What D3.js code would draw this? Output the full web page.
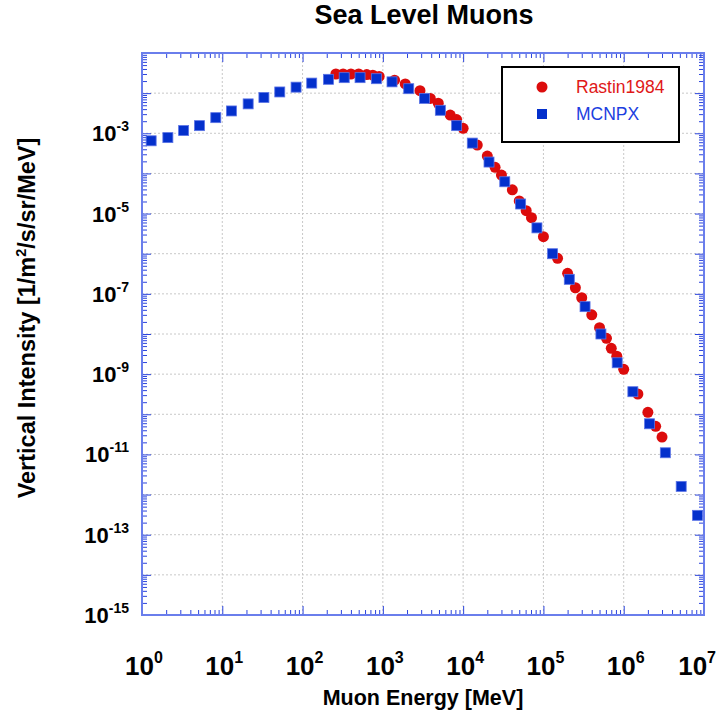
<!DOCTYPE html>
<html>
<head>
<meta charset="utf-8">
<script src="https://cdn.jsdelivr.net/npm/d3@7"></script>
<style>
  html, body { margin: 0; padding: 0; background: #fff; }
  svg { display: block; font-family: "Liberation Sans", Arial, sans-serif; }
</style>
</head>
<body>
<svg id="chart" width="721" height="717"></svg>
<script>
// Measured vertical muon intensity at sea level (Rastin 1984)
const rastinEnergy = [260, 320, 400, 500, 630, 750, 900, 1400, 1900, 2900,
  3900, 4900, 6900, 8300, 1.0e4, 1.5e4, 2.0e4, 2.5e4, 3.0e4, 4.1e4,
  5.0e4, 6.1e4, 7.1e4, 1.0e5, 1.5e5, 2.0e5, 2.5e5, 3.0e5, 4.0e5, 5.0e5,
  6.1e5, 7.0e5, 8.2e5, 1.0e6, 1.5e6, 2.0e6, 2.5e6, 3.0e6];
const rastinIntensity = [3.0e-2, 3.0e-2, 3.0e-2, 3.0e-2, 2.9e-2, 2.8e-2, 2.6e-2, 2.1e-2, 1.7e-2, 1.15e-2,
  7.4e-3, 5.6e-3, 2.85e-3, 2.2e-3, 1.33e-3, 5.1e-4, 2.7e-4, 1.42e-4, 9.1e-5, 3.9e-5,
  2.06e-5, 1.18e-5, 7.9e-6, 2.65e-6, 7.7e-7, 3.25e-7, 1.42e-7, 8.0e-8, 3.0e-8, 1.44e-8,
  7.8e-9, 4.4e-9, 2.8e-9, 1.32e-9, 3.2e-10, 1.12e-10, 5.0e-11, 2.7e-11];

// MCNPX calculation
const mcnpxEnergy = [1.3, 2.1, 3.3, 5.2, 8.3, 13, 21, 33, 52, 83,
  130, 210, 330, 520, 830, 1300, 2100, 3300, 5200, 8300,
  1.3e4, 2.1e4, 3.3e4, 5.2e4, 8.3e4, 1.3e5, 2.1e5, 3.3e5, 5.2e5, 8.3e5,
  1.3e6, 2.1e6, 3.3e6, 5.2e6, 8.3e6];
const mcnpxIntensity = [6.5e-4, 7.8e-4, 1.17e-3, 1.55e-3, 2.45e-3, 3.6e-3, 5.4e-3, 7.8e-3, 1.07e-2, 1.41e-2,
  1.78e-2, 2.21e-2, 2.43e-2, 2.43e-2, 2.29e-2, 1.91e-2, 1.29e-2, 7.4e-3, 3.74e-3, 1.55e-3,
  5.7e-4, 1.92e-4, 6.2e-5, 1.73e-5, 4.4e-6, 1.0e-6, 2.3e-7, 4.8e-8, 1.0e-8, 1.92e-9,
  3.65e-10, 5.8e-11, 1.10e-11, 1.60e-12, 3.04e-13];

const xTickExponents = [0, 1, 2, 3, 4, 5, 6, 7];
const yTickExponents = [-3, -5, -7, -9, -11, -13, -15];

const seriesNames = ["Rastin1984", "MCNPX"];
const seriesColors = ["#dc0c0c", "#0430cc"];

const L = 142, R = 704, T = 53, B = 615;
const svg = d3.select("#chart");

const x = d3.scaleLog().domain([1, 1e7]).range([L, R]);
const y = d3.scaleLog().domain([1e-15, 1e-1]).range([B, T]);

// decade and sub-decade tick positions
const xMajor = d3.range(0, 8).map(e => Math.pow(10, e));
const yMajor = d3.range(-15, 0).map(e => Math.pow(10, e));
const xMinor = [], yMinor = [];
for (let e = 0; e < 7; e++) for (let m = 2; m <= 9; m++) xMinor.push(m * Math.pow(10, e));
for (let e = -15; e < -1; e++) for (let m = 2; m <= 9; m++) yMinor.push(m * Math.pow(10, e));

// grid
const grid = svg.append("g").attr("stroke", "#c8c8c8").attr("stroke-width", 1)
  .attr("stroke-dasharray", "2,2").attr("fill", "none");
grid.selectAll("line.gx").data(xMajor.slice(1, -1)).join("line")
  .attr("x1", d => x(d)).attr("x2", d => x(d)).attr("y1", T).attr("y2", B);
grid.selectAll("line.gy").data(yMajor.slice(1)).join("line")
  .attr("y1", d => y(d)).attr("y2", d => y(d)).attr("x1", L).attr("x2", R);

// inward ticks on all four sides
const tickColor = "#2b44dd";
function drawAxis(gen, tx, ty, vals, size) {
  const g = svg.append("g").attr("transform", `translate(${tx},${ty})`)
    .call(gen.tickValues(vals).tickSize(size).tickSizeOuter(0).tickFormat(""));
  g.select(".domain").remove();
  g.selectAll(".tick line").attr("stroke", tickColor).attr("stroke-width", 1);
}
drawAxis(d3.axisBottom(x), 0, B, xMajor, -9);
drawAxis(d3.axisBottom(x), 0, B, xMinor, -5);
drawAxis(d3.axisTop(x), 0, T, xMajor, -9);
drawAxis(d3.axisTop(x), 0, T, xMinor, -5);
drawAxis(d3.axisLeft(y), L, 0, yMajor, -9);
drawAxis(d3.axisLeft(y), L, 0, yMinor, -5);
drawAxis(d3.axisRight(y), R, 0, yMajor, -9);
drawAxis(d3.axisRight(y), R, 0, yMinor, -5);

// frame
svg.append("rect").attr("x", L).attr("y", T).attr("width", R - L).attr("height", B - T)
  .attr("fill", "none").attr("stroke", "#6a7eec").attr("stroke-width", 2);

// data: measured circles underneath, calculated squares on top
const rastin = rastinEnergy.map((e, i) => ({ e, v: rastinIntensity[i] }));
const mcnpx = mcnpxEnergy.map((e, i) => ({ e, v: mcnpxIntensity[i] }));

svg.append("g").selectAll("circle").data(rastin).join("circle")
  .attr("cx", d => x(d.e)).attr("cy", d => y(d.v)).attr("r", 5.5)
  .attr("fill", seriesColors[0]);

const sq = 10;
svg.append("g").selectAll("rect").data(mcnpx).join("rect")
  .attr("x", d => x(d.e) - sq / 2).attr("y", d => y(d.v) - sq / 2)
  .attr("width", sq).attr("height", sq)
  .attr("fill", seriesColors[1]).attr("stroke", "#5b73e6").attr("stroke-width", 0.8);

// tick labels with superscript exponents (last one kept inside the page edge)
const xl = svg.append("g").attr("font-weight", "bold").attr("fill", "#000");
xTickExponents.forEach((p, i) => {
  const last = i === xTickExponents.length - 1;
  const t = xl.append("text")
    .attr("x", last ? 716 : x(Math.pow(10, p)) + 2).attr("y", 675)
    .attr("text-anchor", last ? "end" : "middle").attr("font-size", 26);
  t.append("tspan").text("10");
  t.append("tspan").attr("dy", -12).attr("font-size", 16).text(p);
});
const yl = svg.append("g").attr("font-weight", "bold").attr("fill", "#000");
yTickExponents.forEach(p => {
  const t = yl.append("text").attr("x", 129).attr("y", y(Math.pow(10, p)) + 8)
    .attr("text-anchor", "end").attr("font-size", 22);
  t.append("tspan").text("10");
  t.append("tspan").attr("dy", -10).attr("font-size", 14).text(p);
});

// titles
svg.append("text").attr("x", 424).attr("y", 24).attr("text-anchor", "middle")
  .attr("font-size", 27).attr("font-weight", "bold").text("Sea Level Muons");
svg.append("text").attr("x", 423).attr("y", 705).attr("text-anchor", "middle")
  .attr("font-size", 21.5).attr("font-weight", "bold").text("Muon Energy [MeV]");
const yt = svg.append("text").attr("transform", "translate(35,318) rotate(-90)")
  .attr("text-anchor", "middle").attr("font-size", 23.5).attr("font-weight", "bold");
yt.append("tspan").text("Vertical Intensity [1/m");
yt.append("tspan").attr("dy", -9).attr("font-size", 14.5).text("2");
yt.append("tspan").attr("dy", 9).text("/s/sr/MeV]");

// legend
const lg = svg.append("g");
lg.append("rect").attr("x", 502).attr("y", 67).attr("width", 177).attr("height", 75)
  .attr("fill", "#fff").attr("stroke", "#000").attr("stroke-width", 2);
lg.append("circle").attr("cx", 542).attr("cy", 87).attr("r", 5.5).attr("fill", seriesColors[0]);
lg.append("rect").attr("x", 537).attr("y", 109).attr("width", 10).attr("height", 10).attr("fill", seriesColors[1]);
lg.append("text").attr("x", 576).attr("y", 93).attr("font-size", 17.5).attr("fill", "#e01818").text(seriesNames[0]);
lg.append("text").attr("x", 576).attr("y", 120).attr("font-size", 17.5).attr("fill", "#1c3ee0").text(seriesNames[1]);
</script>
</body>
</html>
